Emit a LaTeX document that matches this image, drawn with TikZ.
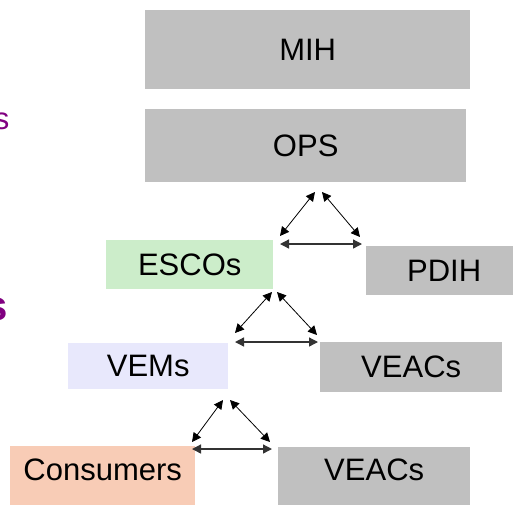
\documentclass[tikz,border=0pt]{standalone}
\usepackage{fontspec}
\setmainfont{Liberation Sans}
\usetikzlibrary{arrows.meta}
\definecolor{boxgrey}{HTML}{C0C0C0}
\definecolor{escogreen}{HTML}{CCEDCA}
\definecolor{vemblue}{HTML}{E8E8FC}
\definecolor{conspeach}{HTML}{F8CCB6}
\definecolor{purp}{HTML}{800080}
\tikzset{
  blk/.style={rectangle, inner sep=0pt, anchor=north west, font=\fontsize{31}{31}\selectfont, text=black},
  lowblk/.style={blk, text height=22.5pt, text depth=16pt},
  rel/.style={{Triangle[length=9pt,width=9pt]}-{Triangle[length=9pt,width=9pt]}, line width=0.8pt, black},
  relh/.style={{Triangle[length=9pt,width=9pt]}-{Triangle[length=9pt,width=9pt]}, line width=1.3pt, black!80},
}
\begin{document}
\begin{tikzpicture}[x=1pt,y=-1pt]
\useasboundingbox (0,0) rectangle (513,504);
% boxes
\node[blk, fill=boxgrey, minimum width=325pt, minimum height=79pt] (mih) at (145,10) {MIH};
\node[blk, fill=boxgrey, minimum width=321pt, minimum height=73pt] (ops) at (145,109) {OPS};
\node[blk, fill=escogreen, minimum width=167pt, minimum height=49pt] (esco) at (106,240) {ESCOs};
\node[blk, fill=boxgrey, minimum width=156pt, minimum height=49pt] (pdih) at (366,246) {PDIH};
\node[blk, fill=vemblue, minimum width=160pt, minimum height=46pt] (vem) at (68,343) {VEMs};
\node[blk, fill=boxgrey, minimum width=182pt, minimum height=50pt] (veac1) at (320,342) {VEACs};
\node[lowblk, fill=conspeach, minimum width=185pt, minimum height=62pt] (cons) at (10,446) {Consumers};
\node[lowblk, fill=boxgrey, minimum width=192pt, minimum height=61pt] (veac2) at (278,447) {VEACs};
% partially visible purple text at left edge
\node[inner sep=0pt, anchor=base east, text=purp, font=\fontsize{31}{31}\selectfont] (s1) at (9.5,129) {s};
\node[inner sep=0pt, anchor=base east, text=purp, font=\fontsize{42}{42}\selectfont\bfseries] (s2) at (8,320) {s};
% triangle 1
\coordinate (a1l) at (315,192);
\coordinate (a1r) at (322,192);
\coordinate (b1l) at (280,236);
\coordinate (b1r) at (360,237);
\coordinate (h1l) at (280,244);
\coordinate (h1r) at (362,244);
\draw[rel] (a1l) -- (b1l);
\draw[rel] (a1r) -- (b1r);
\draw[relh] (h1l) -- (h1r);
% triangle 2
\coordinate (a2l) at (272,292);
\coordinate (a2r) at (277,292);
\coordinate (b2l) at (235,333);
\coordinate (b2r) at (317,335);
\coordinate (h2l) at (235,342);
\coordinate (h2r) at (318,342);
\draw[rel] (a2l) -- (b2l);
\draw[rel] (a2r) -- (b2r);
\draw[relh] (h2l) -- (h2r);
% triangle 3
\coordinate (a3l) at (223,400);
\coordinate (a3r) at (230,400);
\coordinate (b3l) at (192,442);
\coordinate (b3r) at (270,442);
\coordinate (h3l) at (192,449);
\coordinate (h3r) at (272,449);
\draw[rel] (a3l) -- (b3l);
\draw[rel] (a3r) -- (b3r);
\draw[relh] (h3l) -- (h3r);
\end{tikzpicture}
\end{document}
